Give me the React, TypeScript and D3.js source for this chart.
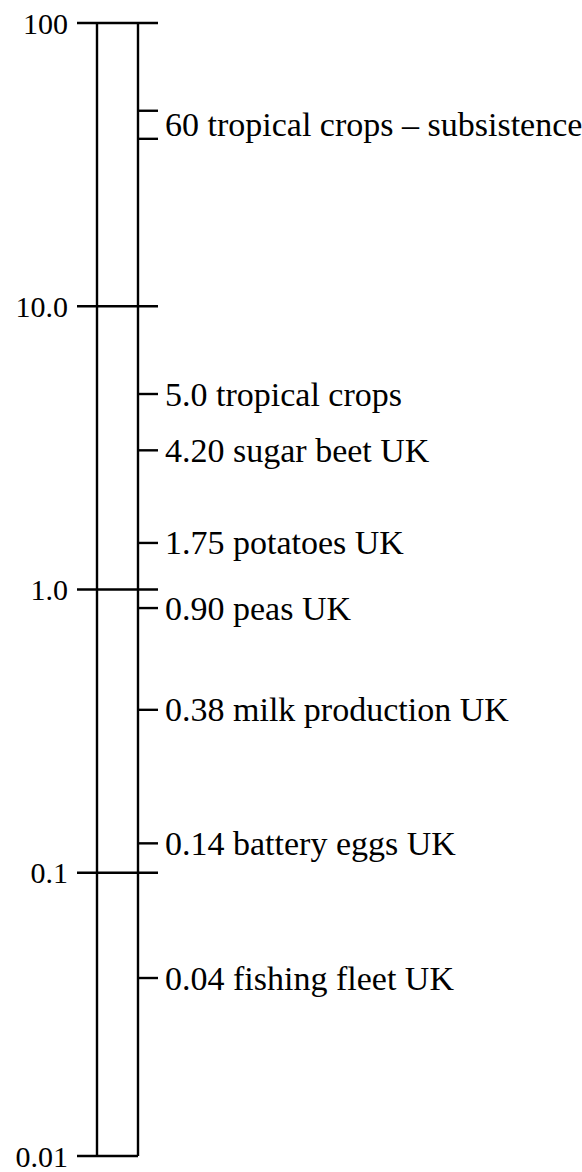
import React from "react";
import * as d3 from "d3";

// decade marks on the left of the column
const decadeValues = [100, 10, 1, 0.1, 0.01];
const decadeLabels = ["100", "10.0", "1.0", "0.1", "0.01"];

// items on the right: where each mark sits on the log column
const itemLabels = [
  "60 tropical crops – subsistence",
  "5.0 tropical crops",
  "4.20 sugar beet UK",
  "1.75 potatoes UK",
  "0.90 peas UK",
  "0.38 milk production UK",
  "0.14 battery eggs UK",
  "0.04 fishing fleet UK",
];
const itemLow = [39, 4.9, 3.1, 1.46, 0.86, 0.376, 0.127, 0.0425];
const itemHigh = [49, 4.9, 3.1, 1.46, 0.86, 0.376, 0.127, 0.0425];

export default function App() {
  const width = 582;
  const height = 1172;
  const colLeft = 97;
  const colRight = 138;
  const tickLen = 20;
  const font = "Liberation Serif, Tinos, Times New Roman, serif";

  const y = d3.scaleLog().domain([0.01, 100]).range([1156, 23]);

  return (
    <svg
      width={width}
      height={height}
      style={{ position: "absolute", left: 0, top: 0, background: "white" }}
    >
      <g stroke="black" strokeWidth={2.4} fill="none">
        <line x1={colLeft} x2={colLeft} y1={y(100)} y2={y(0.01)} />
        <line x1={colRight} x2={colRight} y1={y(100)} y2={y(0.01)} />
        {decadeValues.map((v, i) => (
          <line
            key={"d" + i}
            x1={colLeft - tickLen}
            x2={v === 0.01 ? colRight : colRight + tickLen}
            y1={y(v)}
            y2={y(v)}
          />
        ))}
        {itemLabels.map((_, i) => (
          <g key={"t" + i}>
            <line
              x1={colRight}
              x2={colRight + tickLen}
              y1={y(itemLow[i])}
              y2={y(itemLow[i])}
            />
            {itemHigh[i] !== itemLow[i] && (
              <line
                x1={colRight}
                x2={colRight + tickLen}
                y1={y(itemHigh[i])}
                y2={y(itemHigh[i])}
              />
            )}
          </g>
        ))}
      </g>
      <g style={{ fontFamily: font }} fill="black">
        {decadeValues.map((v, i) => (
          <text
            key={"dl" + i}
            x={colLeft - tickLen - 9}
            y={y(v)}
            fontSize={30}
            textAnchor="end"
            dominantBaseline="central"
          >
            {decadeLabels[i]}
          </text>
        ))}
        {itemLabels.map((label, i) => (
          <text
            key={"il" + i}
            x={colRight + tickLen + 7}
            y={(y(itemLow[i]) + y(itemHigh[i])) / 2}
            fontSize={34}
            dominantBaseline="central"
          >
            {label}
          </text>
        ))}
      </g>
    </svg>
  );
}
